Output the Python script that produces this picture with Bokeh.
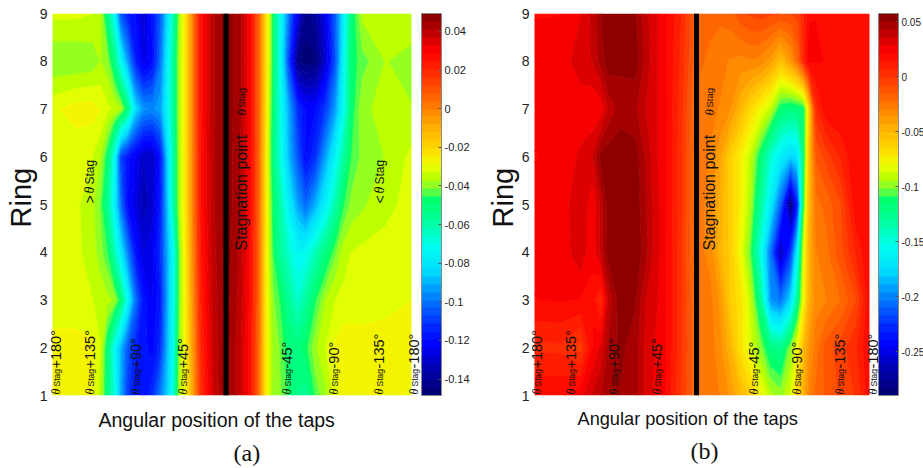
from bokeh.embed import file_html
from bokeh.resources import INLINE
from bokeh.plotting import figure
from bokeh.layouts import row
from bokeh.models import Range1d, Label, Span, ColorBar, LinearColorMapper, FixedTicker, Title
import numpy as np
import math

RINGS = [1, 2, 3, 4, 5, 6, 7, 8, 9]
# tap positions along the angular axis (arbitrary axis units)
TAPS_A = [0,23,40,48,55,62,68,75,83,91,100,108,115,121,127,133,140,148,160,174,188,198,206,213,220,228,236,245,253,263,273,283,291,299,310,333,359]
TAPS_B = [0,26,46,58,66,74,86,101,111,121,131,146,162,176,186,196,206,216,226,236,246,256,263,269,274,281,291,306,321,335]
STAG_A = 173.5
STAG_B = 162

# values in thousandths, ring 1 first
PA_R1 = [-28,-27,-29,-35,-52,-68,-90,-110,-118,-120,-112,-98,-85,-66,-35,-28,-8,18,36,47,38,26,6,-24,-38,-41,-46,-54,-56,-44,-38,-31,-27,-26,-26,-26,-30]
PA_R2 = [-27,-27,-28,-33,-50,-72,-88,-105,-115,-118,-122,-112,-88,-70,-38,-27,-6,20,37,47,38,26,6,-24,-38,-42,-50,-51,-47,-38,-33,-28,-26,-26,-26,-26,-27]
PA_R3 = [-32,-32,-33,-34,-36,-38,-48,-72,-100,-118,-124,-116,-90,-70,-40,-26,-4,22,38,47,39,27,7,-24,-40,-46,-56,-66,-58,-46,-37,-33,-32,-32,-32,-31,-29]
PA_R4 = [-32,-32,-35,-40,-45,-62,-78,-97,-118,-128,-125,-112,-90,-72,-40,-25,-2,24,39,48,40,27,7,-24,-44,-58,-65,-74,-72,-62,-52,-42,-35,-33,-32,-32,-32]
PA_R5 = [-32,-32,-36,-42,-55,-76,-100,-120,-127,-134,-130,-115,-86,-58,-36,-24,0,25,40,48,41,28,8,-23,-46,-60,-76,-92,-102,-90,-76,-60,-46,-40,-38,-34,-32]
PA_R6 = [-32,-32,-33,-37,-48,-72,-108,-118,-124,-132,-132,-118,-84,-58,-36,-24,0,25,40,48,41,28,8,-23,-50,-68,-88,-105,-120,-112,-92,-74,-58,-45,-40,-37,-32]
PA_R7 = [-30,-27,-27,-29,-32,-34,-36,-50,-82,-94,-96,-92,-74,-56,-36,-24,0,26,40,48,42,28,8,-21,-48,-70,-90,-112,-120,-120,-110,-92,-72,-48,-38,-36,-37]
PA_R8 = [-41,-41,-40,-37,-40,-52,-72,-92,-115,-127,-120,-100,-76,-56,-36,-24,0,26,40,48,42,28,8,-20,-46,-72,-108,-143,-147,-145,-130,-105,-74,-48,-43,-37,-39]
PA_R9 = [-32,-32,-33,-36,-52,-74,-105,-115,-120,-130,-118,-104,-82,-60,-37,-24,0,26,40,48,42,28,8,-20,-46,-72,-98,-125,-142,-138,-125,-103,-78,-50,-36,-34,-34]

PB_R1 = [21,20,26,36,42,48,50,46,34,26,22,0,-22,-25,-30,-38,-50,-62,-76,-92,-98,-85,-65,-48,-30,-20,-14,-6,0,20]
PB_R2 = [5,5,-3,22,30,46,52,46,34,28,23,2,-22,-26,-34,-50,-70,-85,-100,-120,-125,-100,-78,-52,-38,-26,-12,-4,6,21]
PB_R3 = [21,22,21,20,4,38,55,51,36,30,23,2,-24,-27,-38,-60,-70,-90,-125,-195,-205,-175,-125,-80,-50,-32,-30,-22,-8,21]
PB_R4 = [22,23,34,22,38,54,56,56,46,32,23,2,-26,-32,-50,-60,-80,-105,-150,-205,-265,-225,-160,-85,-50,-30,-25,-10,8,21]
PB_R5 = [22,23,36,23,38,55,56,55,44,32,23,3,-26,-32,-48,-62,-75,-95,-130,-165,-210,-285,-230,-110,-55,-25,-20,-8,20,21]
PB_R6 = [21,22,30,36,53,55,56,54,42,30,23,3,-26,-30,-42,-62,-75,-90,-115,-145,-165,-178,-170,-120,-60,-14,-5,8,21,21]
PB_R7 = [22,22,23,22,23,38,46,44,36,30,23,4,-25,-28,-30,-36,-50,-66,-78,-90,-115,-120,-118,-115,-70,4,20,21,21,21]
PB_R8 = [22,24,33,36,46,55,52,54,41,30,23,6,-20,-24,-28,-30,-32,-30,-32,-40,-55,-38,-20,8,26,22,21,21,21,21]
PB_R9 = [21,21,28,38,50,53,53,51,38,30,23,8,-18,-20,-20,-18,-10,-6,-4,-6,-8,-8,-5,6,20,21,21,21,21,21]

LOW_A, HIGH_A = -0.1485, 0.0493
LOW_B, HIGH_B = -0.29, 0.0573
TICKS_A = [-0.14,-0.12,-0.1,-0.08,-0.06,-0.04,-0.02,0,0.02,0.04]
TICKS_B = [-0.25,-0.2,-0.15,-0.1,-0.05,0,0.05]
TAP_LABELS = ["+180°","+135°","+90°","+45°","-45°","-90°","-135°","-180°"]
X_TITLE = "Angular position of the taps"
Y_TITLE = "Ring"
STAG_TEXT = "Stagnation point"

# colour ramp
STOPS = [(0,(0,0,110)),(.065,(0,0,170)),(.131,(0,0,255)),(.17,(0,30,255)),(.223,(0,90,255)),(.275,(0,150,255)),
         (.327,(0,220,255)),(.393,(0,255,240)),(.445,(0,255,170)),(.516,(0,255,100)),(.537,(120,255,60)),
         (.568,(180,255,0)),(.602,(240,255,0)),(.641,(255,220,0)),(.681,(255,190,0)),(.751,(255,130,0)),
         (.838,(255,50,0)),(.9,(255,0,0)),(.95,(190,0,0)),(1,(130,0,0))]
N = 48
def ramp(t):
    ts = [s[0] for s in STOPS]
    c = [np.interp(t, ts, [s[1][i] for s in STOPS]) for i in range(3)]
    return "#%02x%02x%02x" % tuple(int(round(v)) for v in c)
PAL = [ramp((i+0.5)/N) for i in range(N)]
LEVEL_PAL = [ramp(i/N) for i in range(N+1)]

SANS = "Liberation Sans"
SERIF = "Liberation Serif"

def lab(p, dx, dy, text, size, font=SANS, angle=0.0, style="normal", align="left"):
    p.add_layout(Label(x=0, y=1, x_offset=dx-4, y_offset=dy, text=text, angle=angle,
                       text_font=font, text_font_size=f"{size}px", text_font_style=style,
                       text_align=align, text_baseline="alphabetic", text_color="#111111"))

V = math.pi/2

def panel(taps, rows, low, high, ticks, stag, x_end, left, right, tag, tag_off, xt_off, xt_size,
          stag_dx, tap_dx, side_dx, cb_size):
    p = figure(output_backend="svg", toolbar_location=None, frame_width=x_end+3, frame_height=382,
               x_range=Range1d(-3, x_end), y_range=Range1d(1, 9),
               min_border_left=left, min_border_right=right, min_border_top=13, min_border_bottom=73)
    z = np.array(rows, dtype=float)/1000
    levels = np.linspace(low, high, N+1)
    p.contour(taps, RINGS, z, levels, fill_color=PAL, line_color=LEVEL_PAL, line_width=1)
    p.grid.visible = False
    p.outline_line_color = None
    p.xaxis.visible = False
    ax = p.yaxis[0]
    ax.ticker = FixedTicker(ticks=RINGS)
    ax.major_tick_line_color = None
    ax.minor_tick_line_color = None
    ax.major_tick_out = 0
    ax.major_tick_in = 0
    ax.minor_tick_out = 0
    ax.minor_tick_in = 0
    ax.axis_line_color = None
    ax.major_label_standoff = 2
    ax.major_label_text_font = SANS
    ax.major_label_text_font_size = "14px"
    ax.major_label_text_color = "#222222"
    p.add_layout(Span(location=stag, dimension="height", line_color="black", line_width=5))
    mapper = LinearColorMapper(palette=PAL, low=low, high=high)
    cb = ColorBar(color_mapper=mapper, location="top_left", ticker=FixedTicker(ticks=ticks), width=20, margin=2, padding=0,
                  major_tick_in=3, major_tick_out=0, major_tick_line_color="#555555",
                  minor_tick_line_color=None, bar_line_color="#888888",
                  major_label_text_font=SANS, major_label_text_font_size=f"{cb_size}px",
                  major_label_text_color="#222222", label_standoff=3,
                  major_label_overrides={t: f"{t:g}" for t in ticks})
    p.add_layout(cb, "right")
    p.add_layout(Title(text=Y_TITLE, align="left", offset=168, standoff=0, text_font=SANS,
                       text_font_size="29px", text_font_style="normal", text_color="#111111"), "left")
    p.add_layout(Title(text=X_TITLE, align="left", offset=xt_off, standoff=22, text_font=SANS,
                       text_font_size=f"{xt_size}px", text_font_style="normal", text_color="#111111"), "below")
    p.add_layout(Title(text=tag, align="left", offset=tag_off, standoff=-7, text_font=SERIF,
                       text_font_size="24px", text_font_style="normal", text_color="#111111"), "below")
    for dx, t in zip(tap_dx, TAP_LABELS):
        lab(p, dx, 1, "θ", 12, font=SERIF, angle=V, style="italic")
        lab(p, dx+1, 9, "Stag", 8.5, angle=V)
        lab(p, dx, 27, t, 14.5, angle=V)
    lab(p, stag_dx, 145, STAG_TEXT, 16, angle=V)
    lab(p, stag_dx, 280, "θ", 13, font=SERIF, angle=V, style="italic")
    lab(p, stag_dx, 288, "Stag", 9.5, angle=V)
    for dx, sign in side_dx:
        lab(p, dx, 192, sign, 14, angle=V)
        lab(p, dx, 202, "θ", 14, font=SERIF, angle=V, style="italic")
        lab(p, dx, 211, "Stag", 12, angle=V)
    return p

p1 = panel(TAPS_A, [PA_R1,PA_R2,PA_R3,PA_R4,PA_R5,PA_R6,PA_R7,PA_R8,PA_R9], LOW_A, HIGH_A, TICKS_A, STAG_A,
           369, 49, 52, "(a)", 184, 49, 19.5, 193, [7,41,87,134,238,285,330,365], [(41, ">"), (331, "<")], 11)
p2 = panel(TAPS_B, [PB_R1,PB_R2,PB_R3,PB_R4,PB_R5,PB_R6,PB_R7,PB_R8,PB_R9], LOW_B, HIGH_B, TICKS_B, STAG_B,
           344, 58, 45, "(b)", 159, 46, 18.2, 179, [6,40,83,126,223,266,309,342], [], 10)

page = row(p1, p2, spacing=0)
open("out.html", "w").write(file_html(page, INLINE))
